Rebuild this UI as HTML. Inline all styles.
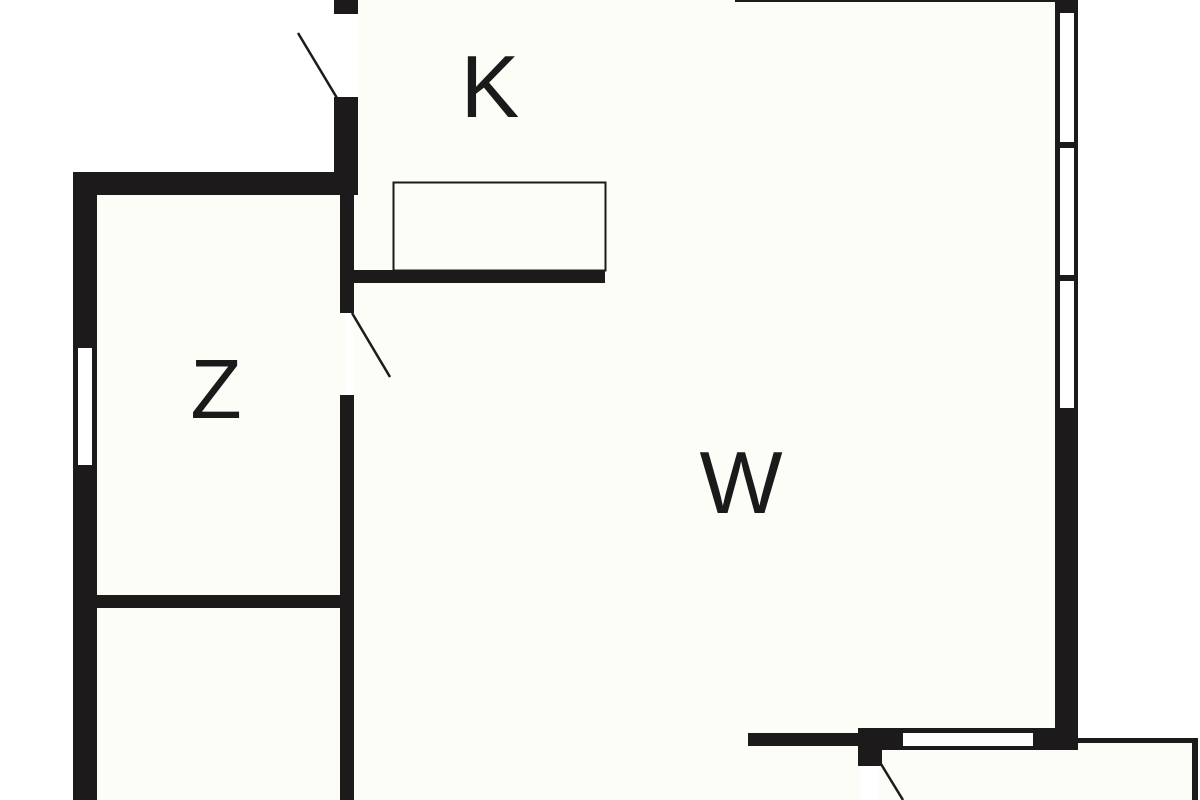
<!DOCTYPE html>
<html><head><meta charset="utf-8"><style>
html,body{margin:0;padding:0;background:#fff;width:1200px;height:800px;overflow:hidden}
svg{display:block}
text{font-family:"Liberation Sans",sans-serif;fill:#1a1a1a}
</style></head><body>
<svg width="1200" height="800" viewBox="0 0 1200 800">
<rect width="1200" height="800" fill="#fff"/>
<!-- floor fills -->
<polygon points="358,0 1058,0 1058,740 860,740 860,800 353,800 353,195 358,195" fill="#fdfdf7"/>
<rect x="95" y="193" width="250" height="607" fill="#fdfdf7"/>
<rect x="878" y="742" width="316" height="58" fill="#fdfdf7"/>
<g fill="#1c1a1b">
<!-- left outer wall -->
<rect x="73" y="172" width="24" height="628"/>
<!-- top wall Z -->
<rect x="73" y="172" width="285" height="23"/>
<!-- Z right wall -->
<rect x="340" y="195" width="14" height="118"/>
<rect x="340" y="395" width="14" height="405"/>
<!-- Z divider -->
<rect x="97" y="595" width="245" height="13"/>
<!-- K left wall -->
<rect x="334" y="97" width="24" height="98"/>
<rect x="334" y="0" width="24" height="14"/>
<!-- counter wall -->
<rect x="353" y="270" width="252" height="13"/>
<!-- top edge line -->
<rect x="735" y="0" width="325" height="2"/>
<!-- right wall -->
<rect x="1055" y="0" width="23" height="750"/>
<!-- bottom wall -->
<rect x="860" y="728" width="218" height="22"/>
<rect x="748" y="733" width="114" height="13"/>
<rect x="858" y="728" width="24" height="38"/>
<!-- small room lines -->
<rect x="1078" y="738" width="120" height="5"/>
<rect x="1192" y="738" width="6" height="62"/>
</g>
<!-- windows -->
<g fill="#fff">
<rect x="78" y="348" width="14" height="117"/>
<rect x="1060" y="13" width="14" height="129"/>
<rect x="1060" y="148" width="14" height="127"/>
<rect x="1060" y="281" width="14" height="127"/>
<rect x="903" y="733" width="130" height="13"/>
</g>
<!-- counter -->
<rect x="393.5" y="182.5" width="212" height="88" fill="none" stroke="#1c1a1b" stroke-width="2"/>
<!-- door leaves -->
<g stroke="#1c1a1b" stroke-width="2.5">
<line x1="298" y1="33" x2="337" y2="98"/>
<line x1="352" y1="313" x2="390" y2="377"/>
<line x1="881" y1="764" x2="903" y2="800"/>
</g>
<!-- labels -->
<text x="490" y="117" font-size="88" text-anchor="middle">K</text>
<text x="216" y="418" font-size="84" text-anchor="middle">Z</text>
<text x="741" y="513" font-size="88" text-anchor="middle">W</text>
</svg>
</body></html>
